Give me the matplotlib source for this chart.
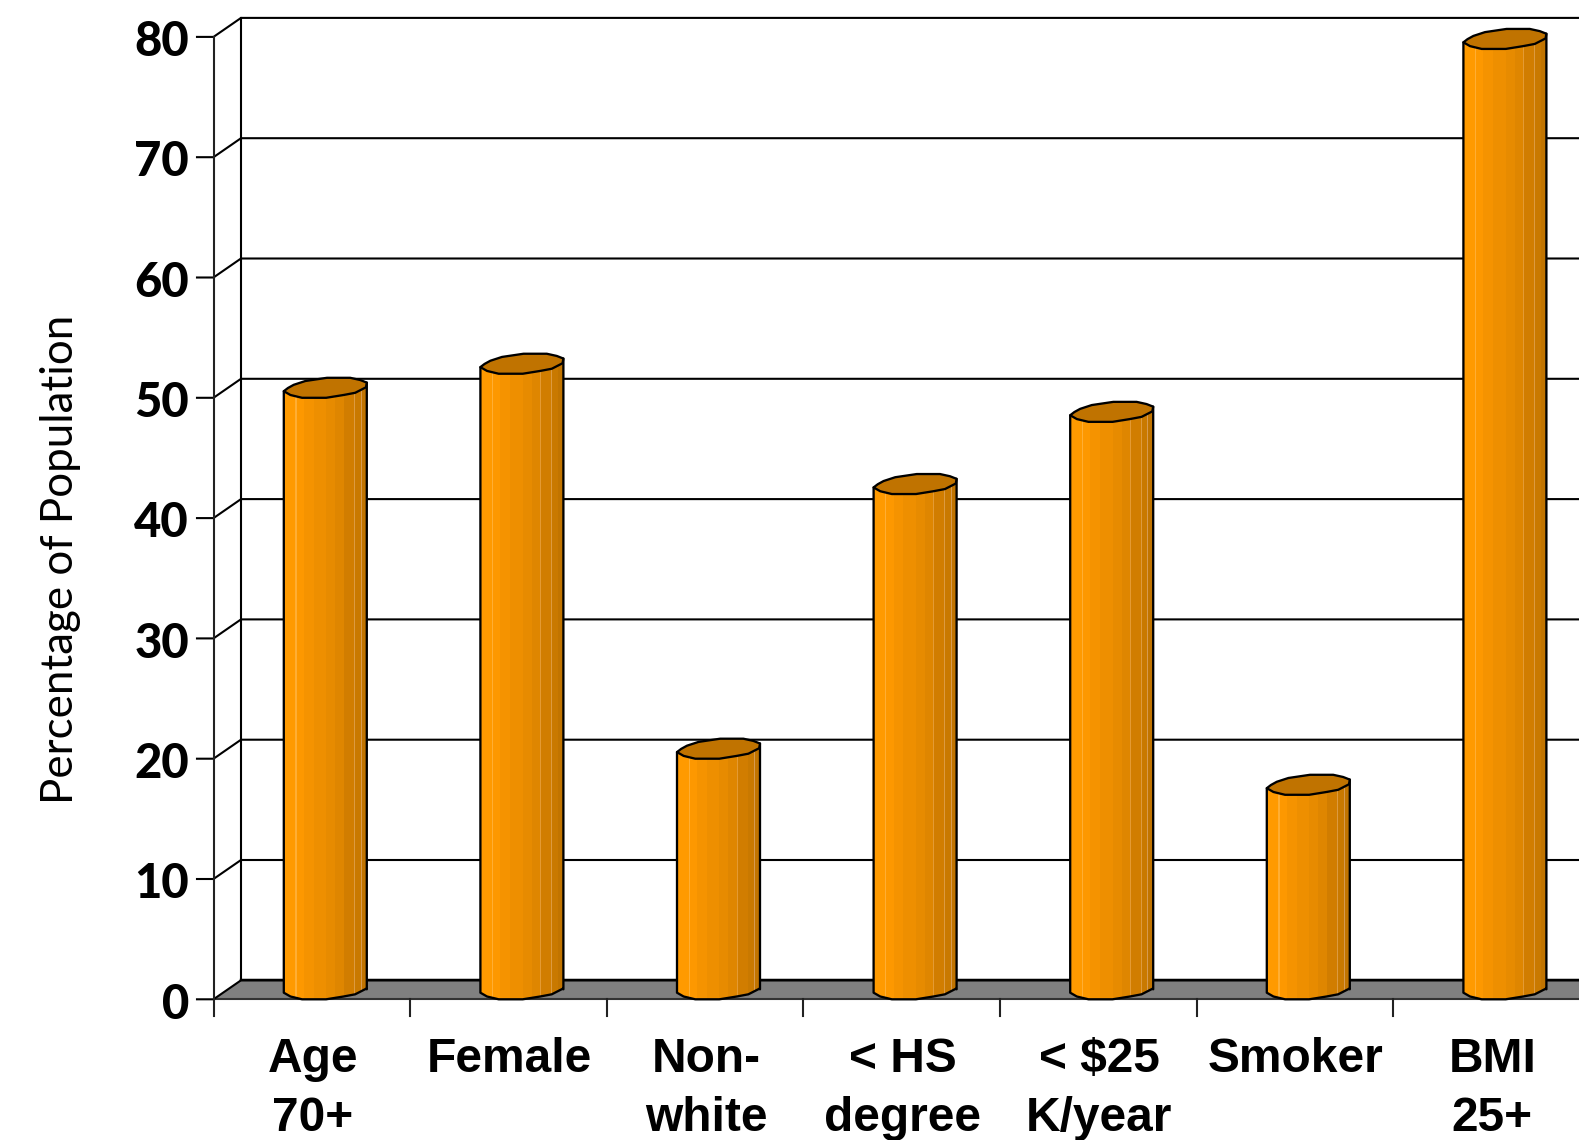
import numpy as np
import matplotlib
matplotlib.use("Agg")
import matplotlib.pyplot as plt
from matplotlib.patches import Polygon
from matplotlib.colors import ListedColormap

# Chart content
categories = ["Age\n70+", "Female", "Non-\nwhite", "< HS\ndegree", "< $25\nK/year", "Smoker", "BMI\n25+"]
values = [50, 52, 20, 42, 48, 17, 79]
y_ticks = [0, 10, 20, 30, 40, 50, 60, 70, 80]
y_label = "Percentage of Population"

# Pixel geometry of the plotting frame
W, H = 1579, 1140
X0, Y0 = 213.5, 999.3
CAT_W, UNIT_H = 196.6, 12.03
DEPTH_X, DEPTH_Y = 27.5 / CAT_W, 19.0 / UNIT_H
BAR_W = 83.0 / CAT_W
BAR_SHIFT = 13.5 / CAT_W

# Faceted outline of the cylinder cap: (fraction of bar width, px above lower rim)
CAP = np.array([
    (0.00, 6.6), (0.05, 9.8), (0.12, 13.0), (0.26, 16.8), (0.52, 20.0), (0.80, 20.0),
    (0.92, 17.8), (1.00, 15.2), (0.99, 10.5), (0.86, 5.0), (0.72, 2.8), (0.51, 0.0),
    (0.22, 0.0), (0.08, 2.8),
])
LOWER = np.array([(1.00, 10.0), (0.99, 10.5), (0.86, 5.0), (0.72, 2.8), (0.51, 0.0),
                  (0.22, 0.0), (0.08, 2.8), (0.00, 6.6)])

# Vertical facets of the shaded cylinder body
FACETS = [
    (0.00, "#FF9A00"), (0.14, "#FFAE33"), (0.155, "#FD9800"), (0.24, "#F59300"),
    (0.36, "#EE8F00"), (0.51, "#E78B00"), (0.62, "#DF8600"), (0.72, "#E49A33"),
    (0.73, "#D17D00"), (0.85, "#DC9A40"), (0.86, "#C97900"), (0.93, "#D69A50"),
    (0.94, "#C17400"),
]
CAP_COLOR = "#C07300"
FLOOR_COLOR = "#808080"

fig = plt.figure(figsize=(W / 100, H / 100), dpi=100)
ax = fig.add_axes([0, 0, 1, 1])
ax.set_xlim(-X0 / CAT_W, (W - X0) / CAT_W)
ax.set_ylim(-(H - Y0) / UNIT_H, Y0 / UNIT_H)
ax.axis("off")

LW = 1.5
n = len(categories)
XMAX = n + 1

# Floor and back wall
ax.add_patch(Polygon([(0, 0), (DEPTH_X, DEPTH_Y), (XMAX, DEPTH_Y), (XMAX, 0)],
                     closed=True, fc=FLOOR_COLOR, ec="none", zorder=1))
ax.plot([DEPTH_X, XMAX], [DEPTH_Y, DEPTH_Y], color="black", lw=LW * 1.2, zorder=2)
ax.plot([0, XMAX], [0, 0], color="#333333", lw=LW, zorder=2)

# Gridlines running along the back wall and diagonally across the side wall
for v in y_ticks:
    ax.plot([-16.5 / CAT_W, 0, DEPTH_X, XMAX], [v, v, v + DEPTH_Y, v + DEPTH_Y],
            color="black", lw=LW, zorder=2, solid_joinstyle="miter")
    ax.text(-24.5 / CAT_W, v - 0.1, str(v), ha="right", va="center_baseline", fontsize=34,
            fontweight="black", family="Lato", color="black")

# Frame verticals
ax.plot([0, 0], [-17 / UNIT_H, y_ticks[-1]], color="#222222", lw=LW, zorder=2)
ax.plot([DEPTH_X, DEPTH_X], [DEPTH_Y, y_ticks[-1] + DEPTH_Y], color="black", lw=LW, zorder=2)

# Category ticks and labels
for i in range(1, n + 1):
    ax.plot([i, i], [0, -17 / UNIT_H], color="#222222", lw=LW, zorder=2)
for i, label in enumerate(categories):
    for j, line in enumerate(label.split("\n")):
        ax.text(i + 0.505, -(60.5 + 58.5 * j) / UNIT_H, line, ha="center", va="center",
                fontsize=34.5, fontweight="bold", family="Liberation Sans", color="black")

# Cylinders
positions = [f for f, _ in FACETS] + [1.0]
cmap = ListedColormap([c for _, c in FACETS])
for i, v in enumerate(values):
    left = i + 0.5 + BAR_SHIFT - BAR_W / 2
    to_x = lambda u: left + u * BAR_W

    top = [(to_x(u), v + p / UNIT_H) for u, p in CAP]
    low = [(to_x(u), p / UNIT_H) for u, p in LOWER]
    upper_left = (to_x(0.0), v + CAP[0, 1] / UNIT_H)
    upper_right = (to_x(1.0), v + CAP[7, 1] / UNIT_H)
    body_xy = [upper_left, upper_right] + low

    body = Polygon(body_xy, closed=True, fc="none", ec="black", lw=LW * 1.1, zorder=4,
                   joinstyle="round")
    ax.add_patch(body)

    # Facet shading is a row of colour bands clipped to the body outline
    edges = [to_x(p) for p in positions]
    mesh = ax.pcolormesh(edges, [-1, v + 3], np.arange(len(FACETS))[None, :], cmap=cmap,
                         vmin=-0.5, vmax=len(FACETS) - 0.5, zorder=3, rasterized=True)
    mesh.set_clip_path(Polygon(body_xy, closed=True, transform=ax.transData))

    ax.add_patch(Polygon(top, closed=True, fc=CAP_COLOR, ec="black", lw=LW * 1.1, zorder=5,
                         joinstyle="round"))

# Axis title
ax.text(-153.5 / CAT_W, 36.6, y_label, rotation=90, ha="center", va="center",
        fontsize=31.6, family="Lato", color="black")

fig.savefig("out.png", dpi=100)
